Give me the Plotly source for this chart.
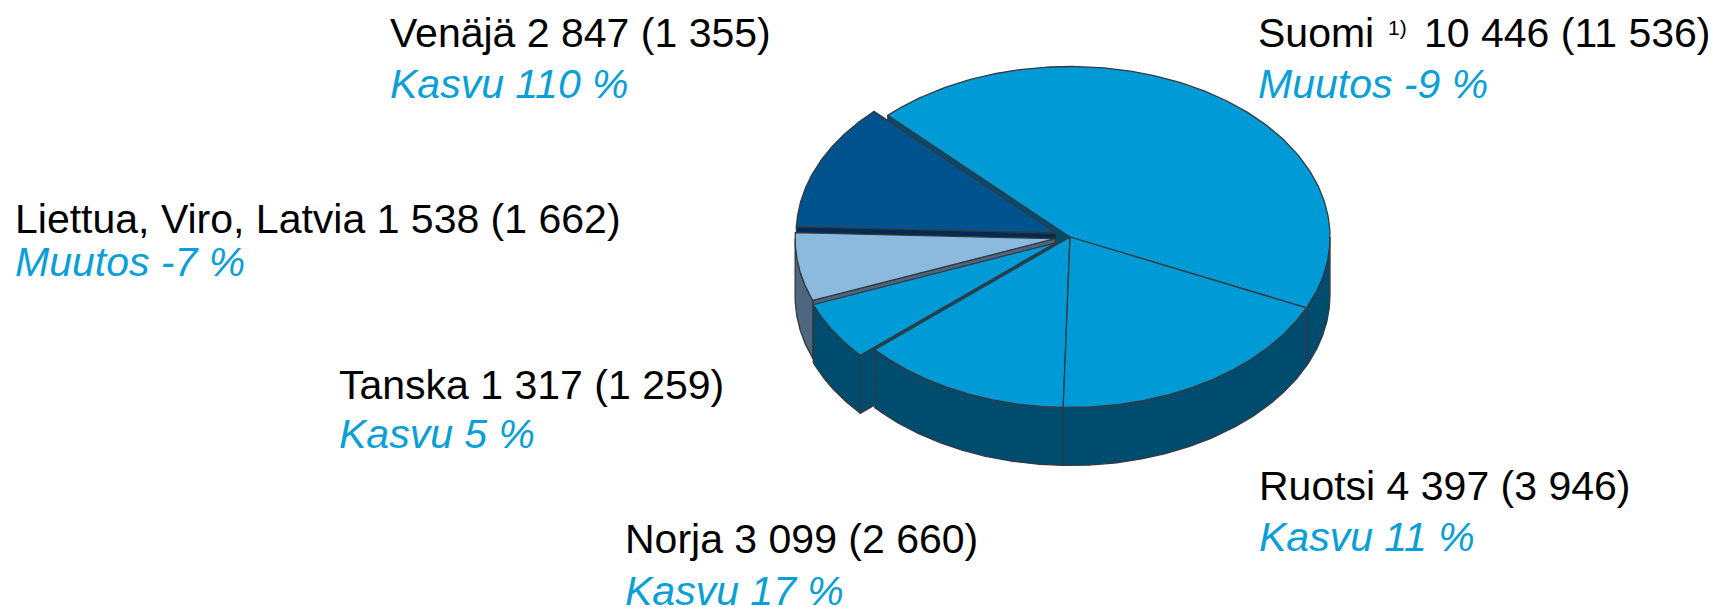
import numpy as np
import plotly.graph_objects as go

# Data (clockwise from the Suomi slice)
countries = ["Suomi", "Ruotsi", "Norja", "Tanska", "Liettua, Viro, Latvia", "Venäjä"]
values_now = [10446, 4397, 3099, 1317, 1538, 2847]
values_prev = [11536, 3946, 2660, 1259, 1662, 1355]
changes = ["Muutos -9 %", "Kasvu 11 %", "Kasvu 17 %", "Kasvu 5 %", "Muutos -7 %", "Kasvu 110 %"]

# Style / geometry
W, H = 1718, 607
CX, CY = 1070, 237
RX, RY, DEPTH = 260, 170.5, 58
START = 134.5
explode = [0, 0, 0, 0.065, 0.058, 0.058]
top_col = ["#009ad6", "#009ad6", "#009ad6", "#009ad6", "#8cb9de", "#00538f"]
side_col = ["#004c6e", "#004c6e", "#004c6e", "#004c6e", "#4e6680", "#002a52"]
LINE = "#333a40"
BLUE = "#0a9fd8"
FS = 41
label_pos = {  # left x, y of first line, y of second line (pixels)
    "Suomi": (1256, 33, 84),
    "Ruotsi": (1257, 486, 537),
    "Norja": (623, 539, 591),
    "Tanska": (337, 385, 434),
    "Liettua, Viro, Latvia": (13, 219, 262),
    "Venäjä": (388, 33, 84),
}

fmt = lambda v: f"{v:,}".replace(",", " ")
total = sum(values_now)
sweeps = [v / total * 360 for v in values_now]
edges = START - np.cumsum([0] + sweeps)  # edges[i] → edges[i+1], clockwise

fig = go.Figure()


def poly(xs, ys, col):
    fig.add_trace(go.Scatter(
        x=np.r_[xs, xs[0]], y=np.r_[ys, ys[0]], mode="lines", fill="toself",
        fillcolor=col, line=dict(color=LINE, width=1.3), hoverinfo="skip", showlegend=False))


def origin(i):
    mid = np.radians((edges[i] + edges[i + 1]) / 2)
    return explode[i] * RX * np.cos(mid), explode[i] * RY * np.sin(mid)


def top(i):
    ox, oy = origin(i)
    t = np.radians(np.linspace(edges[i + 1], edges[i], 160))
    poly(np.r_[ox, ox + RX * np.cos(t)], np.r_[oy, oy + RY * np.sin(t)], top_col[i])


def rim(i):
    lo, hi = edges[i + 1], edges[i]
    # visible front of the cylinder: math angle in [-180, 0]
    lo, hi = max(lo, -180), min(hi, 0)
    if hi <= lo:
        return
    ox, oy = origin(i)
    t = np.radians(np.linspace(lo, hi, 120))
    x = ox + RX * np.cos(t)
    y = oy + RY * np.sin(t)
    poly(np.r_[x, x[::-1]], np.r_[y, y[::-1] - DEPTH], side_col[i])


def cut(i, angle):
    ox, oy = origin(i)
    a = np.radians(angle)
    xe, ye = ox + RX * np.cos(a), oy + RY * np.sin(a)
    poly(np.array([ox, xe, xe, ox]), np.array([oy, ye, ye - DEPTH, oy - DEPTH]), side_col[i])


# Painter's order, back to front
cut(0, edges[0]); rim(0); top(0)               # Suomi
cut(5, edges[5]); top(5)                       # Venäjä
cut(4, edges[4]); rim(4); top(4)               # Liettua...
cut(3, edges[3]); rim(3); top(3)               # Tanska
rim(2); top(2)                                 # Norja
rim(1); top(1)                                 # Ruotsi


def note(x, y, text, color="#000000", italic=False, size=FS):
    fig.add_annotation(
        xref="paper", yref="paper", x=x / W, y=1 - y / H, xanchor="left", yanchor="middle",
        text=text, showarrow=False, align="left",
        font=dict(family="Liberation Sans, Arial, sans-serif", size=size, color=color,
                  style="italic" if italic else "normal"))


for c, now, prev, chg in zip(countries, values_now, values_prev, changes):
    x, y1, y2 = label_pos[c]
    if c == "Suomi":
        note(x, y1, c)
        note(x + 130, y1 - 6, "1)", size=21)
        note(x + 166, y1, f"{fmt(now)} ({fmt(prev)})")
    else:
        note(x, y1, f"{c} {fmt(now)} ({fmt(prev)})")
    note(x, y2, chg, BLUE, True)

fig.update_layout(
    width=W, height=H, margin=dict(l=0, r=0, t=0, b=0),
    paper_bgcolor="white", plot_bgcolor="white", showlegend=False,
    xaxis=dict(visible=False, range=[-CX, W - CX], fixedrange=True),
    yaxis=dict(visible=False, range=[CY - H, CY], fixedrange=True),
)
fig.write_html("out.html", post_script="document.body.style.margin='0';document.body.style.overflow='hidden';",
               config={"displayModeBar": False})
